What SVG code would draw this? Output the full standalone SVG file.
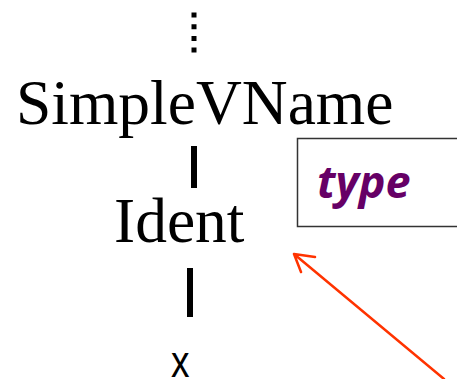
<svg xmlns="http://www.w3.org/2000/svg" width="457" height="379" viewBox="0 0 457 379">
  <defs>
    <style>
      .node { font-family: "Liberation Serif", "Times New Roman", serif; font-size: 63.5px; fill: #000; }
      .leaf { font-family: "Liberation Sans", Arial, sans-serif; font-size: 37px; fill: #000; }
      .edge { stroke: #000; stroke-width: 6; fill: none; }
      .dots { stroke: #000; stroke-width: 5; stroke-dasharray: 5 6.7; fill: none; }
      .tag { font-family: "Open Sans", "Noto Sans", sans-serif; font-size: 45px; font-weight: bold; font-style: italic; fill: #660066; }
      .pointer { stroke: #FF3300; stroke-width: 2.5; fill: none; stroke-linecap: round; stroke-linejoin: round; }
    </style>
  </defs>
  <rect width="457" height="379" fill="#fff"/>

  <!-- tree edges -->
  <g id="connectors">
    <line class="dots" x1="194" y1="12.5" x2="194" y2="54"/>
    <line class="edge" x1="194" y1="146" x2="194" y2="188"/>
    <line class="edge" x1="190" y1="268" x2="190" y2="317"/>
    <path class="pointer" d="M444 379 L294 254 M301 272 L294 254 L315 257"/>
  </g>

  <g id="simplevname">
    <text class="node" x="16" y="124">SimpleVName</text>
  </g>

  <g id="ident">
    <text class="node" x="114" y="242">Ident</text>
  </g>

  <g id="leaf-x">
    <text class="leaf" transform="translate(171 377) scale(1 1.22)">x</text>
  </g>

  <g id="type-box">
    <rect x="297.5" y="138.5" width="170" height="88" fill="#fff" stroke="#333" stroke-width="1.5"/>
    <text class="tag" x="317" y="198">type</text>
  </g>
</svg>
